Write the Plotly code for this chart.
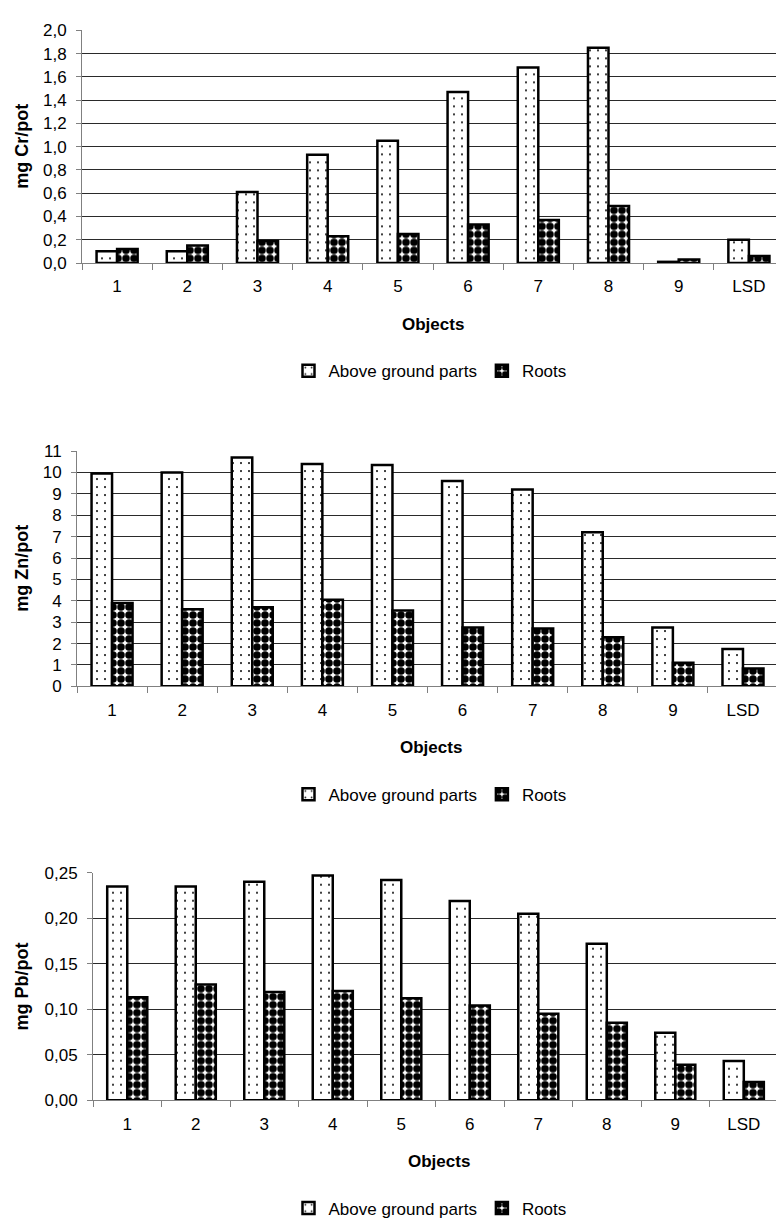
import plotly.graph_objects as go

categories = ["1", "2", "3", "4", "5", "6", "7", "8", "9", "LSD"]

cr_above = [0.10, 0.10, 0.61, 0.93, 1.05, 1.47, 1.68, 1.85, 0.01, 0.20]
cr_roots = [0.12, 0.15, 0.19, 0.23, 0.25, 0.33, 0.37, 0.49, 0.03, 0.06]

zn_above = [9.95, 10.0, 10.7, 10.4, 10.35, 9.6, 9.2, 7.2, 2.75, 1.75]
zn_roots = [3.9, 3.6, 3.7, 4.05, 3.55, 2.75, 2.7, 2.3, 1.1, 0.84]

pb_above = [0.235, 0.235, 0.240, 0.247, 0.242, 0.219, 0.205, 0.172, 0.074, 0.043]
pb_roots = [0.113, 0.127, 0.119, 0.120, 0.112, 0.104, 0.095, 0.085, 0.039, 0.020]

series_names = ["Above ground parts", "Roots"]
y_titles = ["mg Cr/pot", "mg Zn/pot", "mg Pb/pot"]
x_title = "Objects"

W, H = 776, 1228
FONT = "Liberation Sans, Arial, Helvetica, sans-serif"
FS = 17

# panel geometry in pixels: left edge, top (y max), zero line, x range end
panels = [
    dict(left=82, top=21.7, zero=258, xend=9.386, yr=[0, 2.0], dtick=0.2, fmt=".1f"),
    dict(left=77, top=449, zero=688, xend=9.471, yr=[0, 11], dtick=1, fmt="d"),
    dict(left=93, top=877.3, zero=1108.3, xend=9.47, yr=[0, 0.25], dtick=0.05, fmt=".2f"),
]
data = [(cr_above, cr_roots), (zn_above, zn_roots), (pb_above, pb_roots)]

fig = go.Figure()
above_pattern = dict(shape=".", fgcolor="black", bgcolor="white", size=8, solidity=0.05, fillmode="replace")
roots_pattern = dict(shape=".", fgcolor="black", bgcolor="white", size=8, solidity=0.7, fillmode="replace")

layout = dict(
    width=W, height=H,
    margin=dict(l=0, r=0, t=0, b=0),
    paper_bgcolor="white", plot_bgcolor="white",
    separators=", ",
    barmode="group", bargap=0.415, bargroupgap=0,
    font=dict(family=FONT, size=FS, color="black"),
    showlegend=True,
)
annotations = []

for i, (p, (a, r)) in enumerate(zip(panels, data)):
    sfx = "" if i == 0 else str(i + 1)
    xa, ya = "x" + sfx, "y" + sfx
    leg = "legend" + sfx
    fig.add_trace(go.Bar(x=categories, y=a, name=series_names[0], xaxis=xa, yaxis=ya,
                         marker=dict(color="white", pattern=above_pattern, line=dict(color="black", width=2.5)),
                         legend=leg, offsetgroup="a"))
    fig.add_trace(go.Bar(x=categories, y=r, name=series_names[1], xaxis=xa, yaxis=ya,
                         marker=dict(color="black", pattern=roots_pattern, line=dict(color="black", width=2.5)),
                         legend=leg, offsetgroup="b"))
    ybot = (H - p["zero"]) / H
    ytop = (H - p["top"]) / H
    layout["xaxis" + sfx] = dict(
        domain=[p["left"] / W, 1], anchor=ya, type="category", range=[-0.5, p["xend"]],
        showgrid=False, showline=True, linecolor="#808080", linewidth=1,
        ticks="outside", tickson="boundaries", ticklen=6, tickcolor="#808080",
        tickfont=dict(size=FS), ticklabelstandoff=8, fixedrange=True,
    )
    layout["yaxis" + sfx] = dict(
        domain=[ybot, ytop], anchor=xa, range=p["yr"], dtick=p["dtick"], tick0=0,
        tickformat=p["fmt"], showgrid=True, gridcolor="#2a2a2a", gridwidth=1,
        showline=True, linecolor="#808080", linewidth=1, zeroline=False,
        ticks="outside", ticklen=5, tickcolor="#808080", tickfont=dict(size=FS),
        ticklabelstandoff=6, fixedrange=True,
    )
    layout[leg] = dict(
        orientation="h", x=430 / W, xanchor="center",
        y=(H - (p["zero"] + 110)) / H, yanchor="middle",
        font=dict(size=FS), bgcolor="rgba(0,0,0,0)", itemwidth=30, tracegroupgap=0,
    )
    annotations.append(dict(
        text="<b>" + x_title + "</b>", x=(p["left"] + 776 + 8) / 2 / W, y=(H - (p["zero"] + 62)) / H,
        xref="paper", yref="paper", showarrow=False, xanchor="center", yanchor="middle",
        font=dict(size=FS),
    ))
    annotations.append(dict(
        text="<b>" + y_titles[i] + "</b>", x=22 / W, y=(H - (p["zero"] + p["top"]) / 2) / H,
        xref="paper", yref="paper", showarrow=False, textangle=-90,
        xanchor="center", yanchor="middle", font=dict(size=18),
    ))

layout["annotations"] = annotations
fig.update_layout(**layout)
fig.write_html("out.html", config={"displayModeBar": False},
               post_script="document.body.style.margin='0';document.body.style.padding='0';")
